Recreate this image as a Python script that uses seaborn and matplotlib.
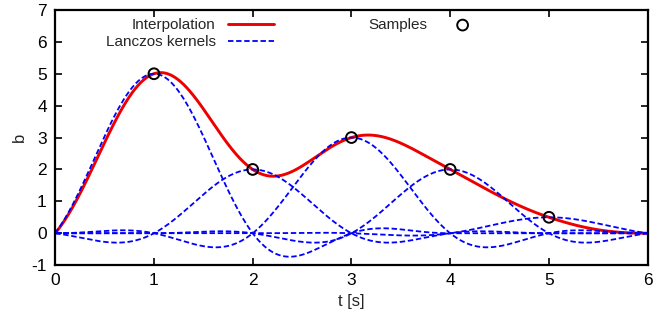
import numpy as np
import pandas as pd
import matplotlib
matplotlib.use("Agg")
import matplotlib.pyplot as plt
import seaborn as sns

# sample points (value at each integer time)
sample_t = [1, 2, 3, 4, 5]
sample_b = [5.0, 2.0, 3.0, 2.0, 0.5]
lanczos_a = 3  # kernel half width (lobes)

sns.set_theme(style="ticks")
plt.rcParams['font.family'] = ['Liberation Sans', 'DejaVu Sans']
plt.rcParams['axes.unicode_minus'] = False

t = np.linspace(0, 6, 601)

def lanczos(x, a):
    return np.where(np.abs(x) < a, np.sinc(x) * np.sinc(x / a), 0.0)

kernels = []
for ti, bi in zip(sample_t, sample_b):
    kernels.append(pd.DataFrame({'t': t, 'b': bi * lanczos(t - ti, lanczos_a), 'k': ti}))
kern_df = pd.concat(kernels, ignore_index=True)
interp = kern_df.groupby('t', as_index=False)['b'].sum()
samples = pd.DataFrame({'t': sample_t, 'b': sample_b})

fig = plt.figure(figsize=(6.65, 3.21), dpi=100)
ax = fig.add_axes([0.083, 0.174, 0.891, 0.795])

for ti, g in kern_df.groupby('k'):
    sns.lineplot(data=g, x='t', y='b', ax=ax, color='#0000ff', lw=1.3,
                 dashes=False, linestyle=(0, (3, 1.5)), zorder=2,
                 label='Lanczos kernels' if ti == sample_t[0] else None)
sns.lineplot(data=interp, x='t', y='b', ax=ax, color='#ee0000', lw=2.1,
             zorder=1, label='Interpolation')
sns.scatterplot(data=samples, x='t', y='b', ax=ax, marker='o', s=60,
                facecolor='none', edgecolor='black', linewidth=1.4,
                zorder=3, label='Samples')

ax.set_xlim(0, 6)
ax.set_ylim(-1, 7)
ax.set_xticks(range(0, 7))
ax.set_yticks(range(-1, 8))
ax.set_xlabel('t [s]', fontsize=12, labelpad=4)
ax.set_ylabel('b', fontsize=12, labelpad=3)
ax.tick_params(direction='in', top=True, right=True, labelsize=12.5,
               length=5, width=1.2, colors='black', pad=6)
for s in ax.spines.values():
    s.set_linewidth(1.6)
    s.set_color('black')

h, l = ax.get_legend_handles_labels()
order = [l.index('Interpolation'), l.index('Lanczos kernels'), l.index('Samples')]
ax.legend([h[i] for i in order], [l[i] for i in order], ncol=2,
          markerfirst=False, frameon=False, loc='upper left',
          bbox_to_anchor=(0.062, 1.022), fontsize=11, handlelength=3.0,
          columnspacing=6.2, labelspacing=0.2, handletextpad=0.8)

fig.savefig('out.png', dpi=100)
